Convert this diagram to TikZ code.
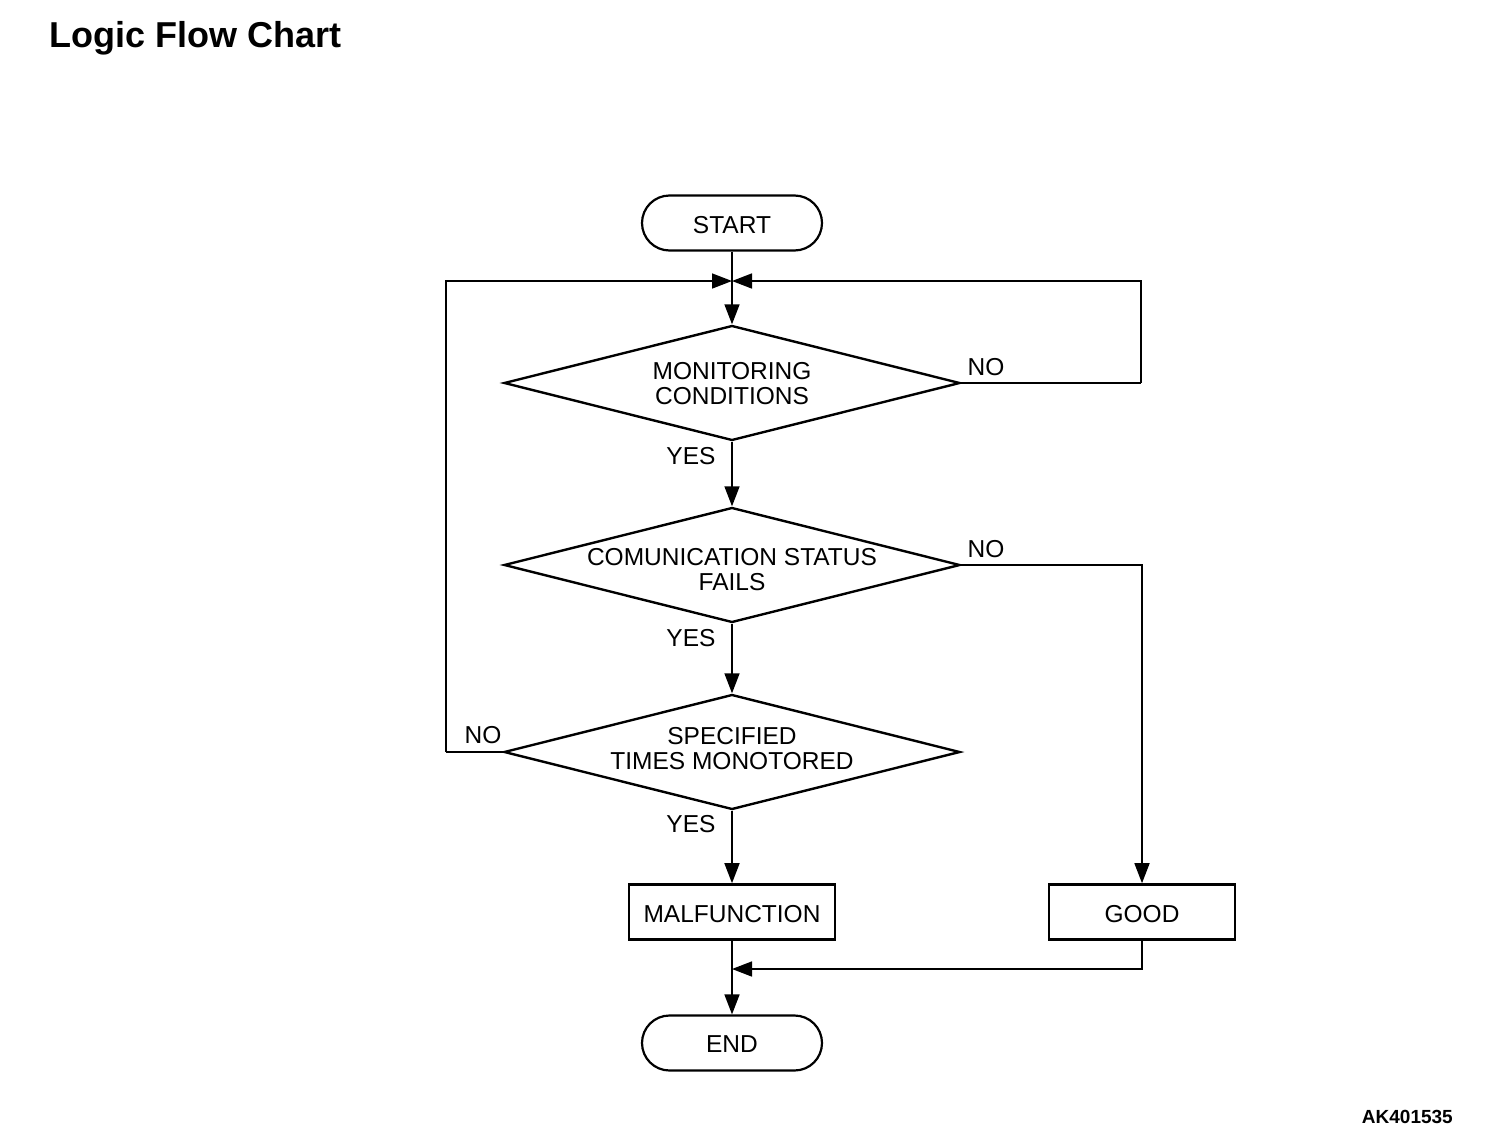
\documentclass[tikz,border=0pt]{standalone}
\usepackage{fontspec}
\setmainfont{Liberation Sans}
\usetikzlibrary{shapes.geometric,shapes.misc,arrows.meta}

\tikzset{
  terminal/.style={rounded rectangle,draw,line width=2.2pt,minimum width=180pt,minimum height=55pt,inner sep=0pt},
  decision/.style={diamond,draw,line width=2.4pt,minimum width=456pt,minimum height=115pt,inner sep=0pt},
  process/.style={rectangle,draw,line width=2.6pt,minimum height=55pt,inner sep=0pt},
  txt/.style={align=center,font=\fontsize{24.5}{25}\selectfont,inner sep=0pt},
  arr/.style={line width=1.6pt,-{Triangle[length=20pt,width=15pt]}},
  conn/.style={line width=1.6pt}
}

\begin{document}
\begin{tikzpicture}[x=1pt,y=-1pt]
    \useasboundingbox (0,0) rectangle (1504,1146);
    % heading and reference number
    \node[anchor=base west,inner sep=0pt,font=\fontsize{36}{40}\selectfont\bfseries] (title) at (49,47) {Logic Flow Chart};
    \node[anchor=base east,inner sep=0pt,font=\fontsize{19}{20}\selectfont\bfseries] (ref) at (1453,1123) {AK401535};

    % boxes
    \node[terminal] (start) at (732,223) {};
    \node[txt] (starttxt) at (732,225) {START};
    \node[decision] (mon) at (732,383) {};
    \node[txt] (montxt) at (732,384) {MONITORING\\CONDITIONS};
    \node[decision] (comm) at (732,565) {};
    \node[txt] (commtxt) at (732,570) {COMUNICATION STATUS\\FAILS};
    \node[decision] (spec) at (732,752) {};
    \node[txt] (spectxt) at (732,749) {SPECIFIED\\TIMES MONOTORED};
    \node[process,minimum width=206pt] (mal) at (732,912) {};
    \node[txt] (maltxt) at (732,914) {MALFUNCTION};
    \node[process,minimum width=186pt] (good) at (1142,912) {};
    \node[txt] (goodtxt) at (1142,914) {GOOD};
    \node[terminal] (end) at (732,1043) {};
    \node[txt] (endtxt) at (732,1044) {END};

    % joining points
    \coordinate (join) at (732,281);
    \coordinate (merge) at (732,969);
    \coordinate (monright) at (1141,383);
    \coordinate (specleft) at (446,752);

    % yes branches
    \draw[arr] (start) -- (mon);
    \draw[arr] (mon) -- (comm);
    \draw[arr] (comm) -- (spec);
    \draw[arr] (spec) -- (mal);
    \draw[arr] (mal) -- (end);

    % no branches
    \draw[conn] (mon.east) -- (monright);
    \draw[arr] (monright) |- (join);
    \draw[conn] (spec.west) -- (specleft);
    \draw[arr] (specleft) |- (join);
    \draw[arr] (comm.east) -| (good.north);
    \draw[arr] (good.south) |- (merge);

    % labels
    \node[txt] (no1) at (986,367) {NO};
    \node[txt] (yes1) at (691,456) {YES};
    \node[txt] (no2) at (986,549) {NO};
    \node[txt] (yes2) at (691,638) {YES};
    \node[txt] (no3) at (483,735) {NO};
    \node[txt] (yes3) at (691,824) {YES};
\end{tikzpicture}
\end{document}
